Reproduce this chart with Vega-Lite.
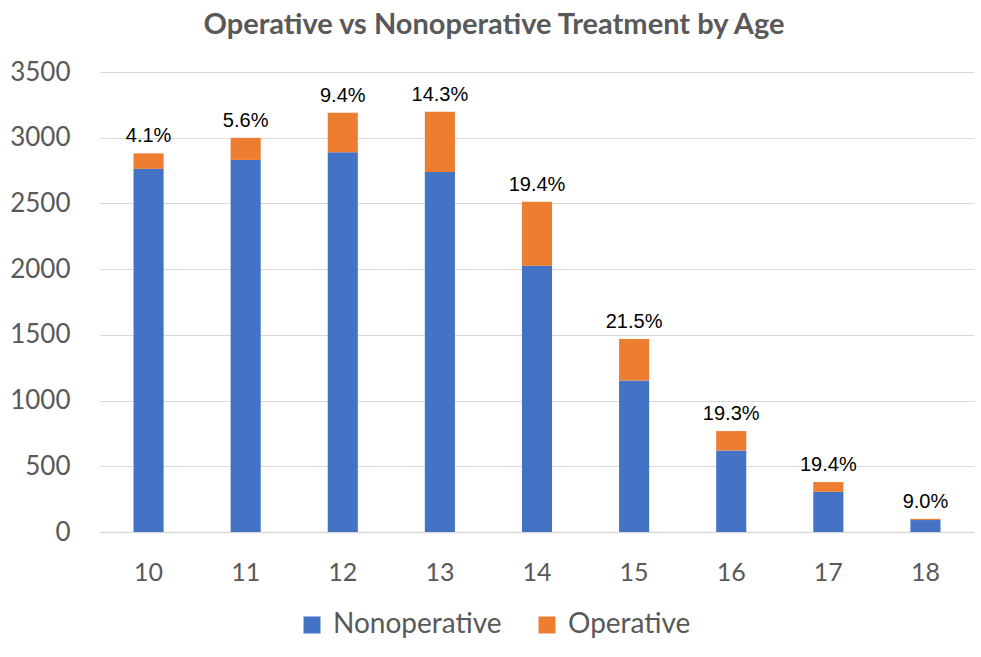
{
  "$schema": "https://vega.github.io/schema/vega-lite/v6.json",
  "autosize": {"type": "none"},
  "padding": {"left": 100, "top": 72, "right": 7, "bottom": 125},
  "width": 874,
  "height": 460,
  "background": "white",
  "view": {"stroke": null},
  "title": {
    "text": "Operative vs Nonoperative Treatment by Age",
    "font": "Lato",
    "fontSize": 29,
    "fontWeight": "bold",
    "color": "#595959",
    "anchor": "middle",
    "dx": -43,
    "offset": 19
  },
  "data": {
    "values": [
      {"age": "10", "treatment": "Nonoperative", "count": 2763, "pct": null},
      {"age": "10", "treatment": "Operative", "count": 118, "pct": 0.041},
      {"age": "11", "treatment": "Nonoperative", "count": 2831, "pct": null},
      {"age": "11", "treatment": "Operative", "count": 168, "pct": 0.056},
      {"age": "12", "treatment": "Nonoperative", "count": 2890, "pct": null},
      {"age": "12", "treatment": "Operative", "count": 300, "pct": 0.094},
      {"age": "13", "treatment": "Nonoperative", "count": 2740, "pct": null},
      {"age": "13", "treatment": "Operative", "count": 457, "pct": 0.143},
      {"age": "14", "treatment": "Nonoperative", "count": 2025, "pct": null},
      {"age": "14", "treatment": "Operative", "count": 487, "pct": 0.194},
      {"age": "15", "treatment": "Nonoperative", "count": 1153, "pct": null},
      {"age": "15", "treatment": "Operative", "count": 316, "pct": 0.215},
      {"age": "16", "treatment": "Nonoperative", "count": 620, "pct": null},
      {"age": "16", "treatment": "Operative", "count": 148, "pct": 0.193},
      {"age": "17", "treatment": "Nonoperative", "count": 306, "pct": null},
      {"age": "17", "treatment": "Operative", "count": 74, "pct": 0.194},
      {"age": "18", "treatment": "Nonoperative", "count": 91, "pct": null},
      {"age": "18", "treatment": "Operative", "count": 9, "pct": 0.09}
    ]
  },
  "encoding": {
    "x": {
      "field": "age",
      "type": "nominal",
      "title": null,
      "scale": {"paddingInner": 0.69, "paddingOuter": 0.345},
      "axis": {
        "labelAngle": 0,
        "labelFont": "Lato",
        "labelFontSize": 25,
        "labelColor": "#595959",
        "labelPadding": 28,
        "ticks": false,
        "domainColor": "#d9d9d9",
        "domainWidth": 1.5
      }
    }
  },
  "layer": [
    {
      "mark": {"type": "bar"},
      "encoding": {
        "y": {
          "field": "count",
          "type": "quantitative",
          "stack": "zero",
          "title": null,
          "scale": {"domain": [0, 3500]},
          "axis": {
            "values": [0, 500, 1000, 1500, 2000, 2500, 3000, 3500],
            "format": "d",
            "labelFont": "Lato",
            "labelFontSize": 26,
            "labelColor": "#595959",
            "labelPadding": 30,
            "ticks": false,
            "domain": false,
            "gridColor": "#d9d9d9",
            "gridWidth": 1
          }
        },
        "color": {
          "field": "treatment",
          "type": "nominal",
          "title": null,
          "scale": {
            "domain": ["Nonoperative", "Operative"],
            "range": ["#4472C4", "#ED7D31"]
          },
          "legend": {
            "orient": "none",
            "direction": "horizontal",
            "legendX": 198,
            "legendY": 539,
            "symbolType": "square",
            "symbolSize": 289,
            "symbolStrokeWidth": 0,
            "labelFont": "Lato",
            "labelFontSize": 28,
            "labelColor": "#595959",
            "labelOffset": 7,
            "labelLimit": 0,
            "columnPadding": 31
          }
        },
        "order": {"field": "treatment", "sort": "ascending"}
      }
    },
    {
      "mark": {
        "type": "text",
        "font": "Liberation Sans",
        "fontSize": 20,
        "color": "black",
        "baseline": "middle",
        "dy": -17
      },
      "encoding": {
        "y": {"aggregate": "sum", "field": "count", "type": "quantitative"},
        "text": {"aggregate": "max", "field": "pct", "type": "quantitative", "format": ".1%"}
      }
    }
  ]
}
